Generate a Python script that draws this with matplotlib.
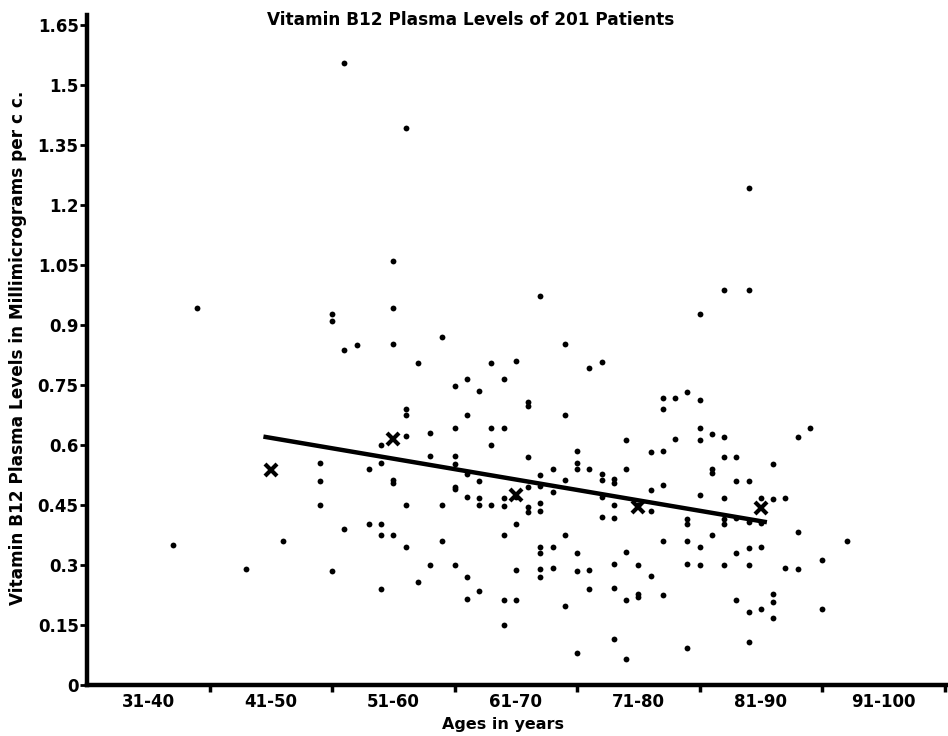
import matplotlib
matplotlib.use("Agg")
from matplotlib import pyplot as plt

# patient ages (years) and vitamin B12 plasma levels (millimicrograms per c.c.)
ages = [37, 39, 43, 46,
        49, 49, 49,
        50, 50, 50,
        51, 51, 51,
        52,
        53, 53,
        54, 54, 54, 54, 54,
        55, 55, 55, 55, 55, 55,
        56, 56, 56, 56, 56, 56,
        57, 57,
        58, 58, 58,
        59, 59, 59,
        60, 60, 60, 60, 60, 60, 60,
        61, 61, 61, 61, 61, 61,
        62, 62, 62, 62, 62,
        63, 63, 63, 63,
        64, 64, 64, 64, 64, 64, 64,
        65, 65, 65, 65, 65,
        66, 66, 66, 66, 66, 66,
        67, 67, 67, 67, 67, 67, 67, 67, 67,
        68, 68, 68, 68,
        69, 69, 69, 69, 69,
        70, 70, 70, 70, 70, 70,
        71, 71, 71, 71,
        72, 72, 72, 72, 72,
        73, 73, 73, 73, 73, 73, 73,
        74, 74, 74, 74, 74,
        75, 75, 75, 75,
        76, 76, 76, 76,
        77, 77, 77, 77, 77, 77,
        78, 78,
        79, 79, 79, 79, 79, 79,
        80, 80, 80, 80, 80, 80, 80,
        81, 81, 81, 81,
        82, 82, 82, 82, 82, 82, 82,
        83, 83, 83, 83, 83,
        84, 84, 84, 84, 84, 84, 84, 84,
        85, 85, 85, 85,
        86, 86, 86, 86, 86,
        87, 87,
        88, 88, 88,
        89,
        90, 90,
        92]
levels = [0.35, 0.942, 0.29, 0.359,
          0.554, 0.511, 0.45,
          0.928, 0.91, 0.286,
          1.555, 0.8375, 0.39,
          0.851,
          0.54, 0.403,
          0.60, 0.556, 0.403, 0.374, 0.24,
          1.06, 0.942, 0.8525, 0.5125, 0.506, 0.375,
          1.3925, 0.689, 0.676, 0.622, 0.45, 0.344,
          0.806, 0.257,
          0.629, 0.572, 0.30,
          0.869, 0.45, 0.359,
          0.7475, 0.6425, 0.572, 0.5525, 0.496, 0.49, 0.30,
          0.765, 0.674, 0.5275, 0.471, 0.271, 0.214,
          0.734, 0.511, 0.468, 0.45, 0.235,
          0.806, 0.6425, 0.60, 0.45,
          0.766, 0.643, 0.467, 0.448, 0.374, 0.2125, 0.15,
          0.809, 0.47, 0.403, 0.287, 0.212,
          0.708, 0.6975, 0.571, 0.495, 0.446, 0.433,
          0.973, 0.525, 0.4975, 0.454, 0.436, 0.345, 0.331, 0.289, 0.271,
          0.54, 0.4825, 0.344, 0.292,
          0.8525, 0.674, 0.5125, 0.375, 0.198,
          0.584, 0.556, 0.541, 0.331, 0.285, 0.079,
          0.7925, 0.54, 0.2875, 0.241,
          0.808, 0.527, 0.512, 0.471, 0.421,
          0.514, 0.506, 0.45, 0.418, 0.302, 0.242, 0.114,
          0.613, 0.539, 0.332, 0.2125, 0.064,
          0.45, 0.299, 0.227, 0.221,
          0.583, 0.4875, 0.436, 0.273,
          0.718, 0.691, 0.584, 0.50, 0.359, 0.226,
          0.717, 0.614,
          0.733, 0.415, 0.4025, 0.359, 0.302, 0.093,
          0.9275, 0.712, 0.642, 0.6125, 0.475, 0.346, 0.299,
          0.6275, 0.539, 0.531, 0.375,
          0.988, 0.621, 0.57, 0.468, 0.415, 0.4025, 0.30,
          0.569, 0.511, 0.417, 0.331, 0.2125,
          1.2425, 0.987, 0.511, 0.408, 0.343, 0.301, 0.182, 0.107,
          0.467, 0.404, 0.344, 0.189,
          0.553, 0.464, 0.2275, 0.2075, 0.167,
          0.468, 0.293,
          0.621, 0.382, 0.291,
          0.643,
          0.313, 0.189,
          0.36]

# group means (x marks) and regression line
mean_ages = [45, 55, 65, 75, 85]
mean_levels = [0.5375, 0.615, 0.475, 0.446, 0.4425]
fit_ages = [44.4, 85.5]
fit_levels = [0.621, 0.407]

group_labels = ["31-40", "41-50", "51-60", "61-70", "71-80", "81-90", "91-100"]
group_centers = [35, 45, 55, 65, 75, 85, 95]
group_bounds = [40, 50, 60, 70, 80, 90, 100]
y_ticks = [0, 0.15, 0.3, 0.45, 0.6, 0.75, 0.9, 1.05, 1.2, 1.35, 1.5, 1.65]
y_labels = ["0", "0.15", "0.3", "0.45", "0.6", "0.75", "0.9", "1.05", "1.2", "1.35", "1.5", "1.65"]

plt.rcParams["font.family"] = "DejaVu Sans"
plt.rcParams["font.weight"] = "bold"

fig = plt.figure(figsize=(9.48, 7.36), dpi=100)
ax = fig.add_axes([87 / 948, 51 / 736, 860 / 948, 670 / 736])

# patients, regression line, group means
ax.plot(ages, levels, "o", color="black", ms=4.2, mew=0)
ax.plot(fit_ages, fit_levels, color="black", lw=3.2, solid_capstyle="butt")
ax.plot(mean_ages, mean_levels, "x", color="black", ms=9, mew=3)

ax.set_xlim(30, 100.2)
ax.set_ylim(0, 1.675)

for side in ["top", "right"]:
    ax.spines[side].set_visible(False)
ax.spines["left"].set_linewidth(3.2)
ax.spines["bottom"].set_linewidth(3.2)

ax.set_yticks(y_ticks)
ax.set_yticklabels(y_labels, fontsize=12, fontweight="bold")
ax.tick_params(axis="y", direction="out", length=5, width=2, pad=1)

# tick marks between age groups, labels centred in each group
ax.set_xticks(group_bounds)
ax.set_xticklabels([])
ax.set_xticks(group_centers, minor=True)
ax.set_xticklabels(group_labels, minor=True, fontsize=12, fontweight="bold")
ax.tick_params(axis="x", which="major", direction="out", length=5, width=2.5)
ax.tick_params(axis="x", which="minor", length=0, pad=6)

fig.text(471 / 948, 1 - 20 / 736, "Vitamin B12 Plasma Levels of 201 Patients",
         ha="center", va="center", fontsize=12.2, fontweight="bold")
fig.text(503 / 948, 1 - 725 / 736, "Ages in years",
         ha="center", va="center", fontsize=11.5, fontweight="bold")
fig.text(18 / 948, 1 - 348 / 736, "Vitamin B12 Plasma Levels in Millimicrograms per c c.",
         ha="center", va="center", rotation=90, fontsize=12.2, fontweight="bold")

fig.savefig("out.png", dpi=100)
